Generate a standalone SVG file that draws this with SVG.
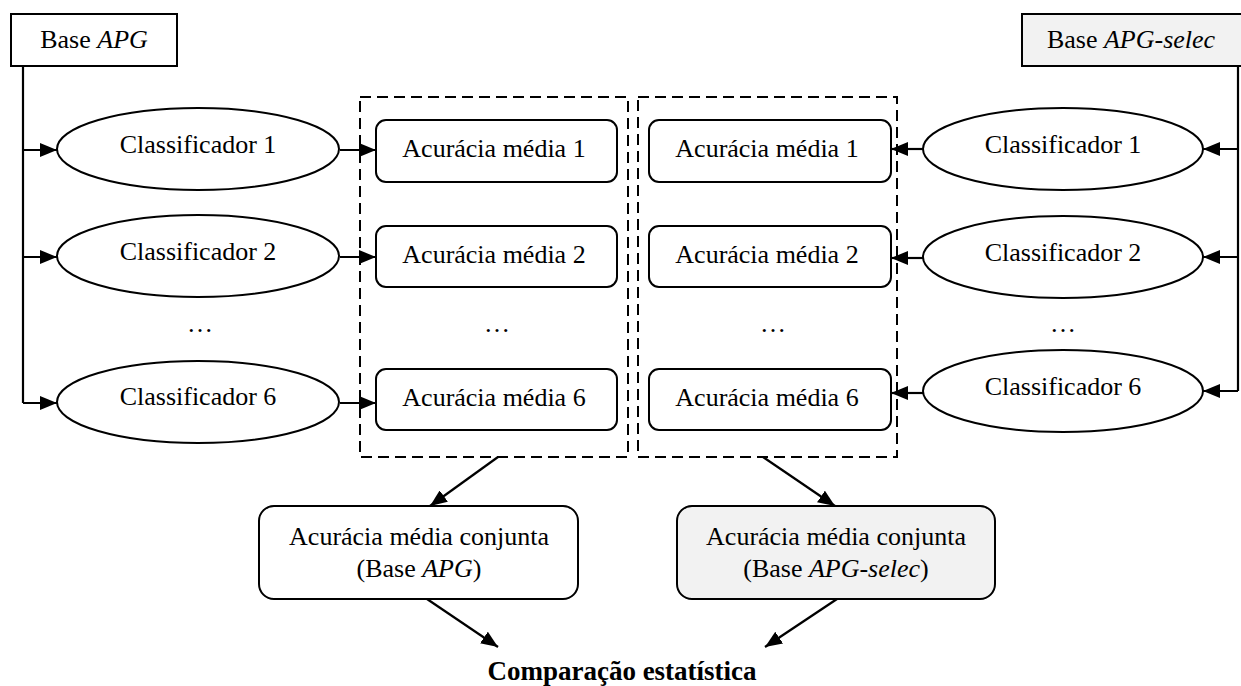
<svg xmlns="http://www.w3.org/2000/svg" width="1241" height="686" viewBox="0 0 1241 686">
  <style>
    text { font-family: "Liberation Serif", "Times New Roman", serif; font-size: 26px; fill: #000; text-anchor: middle; }
    .it { font-style: italic; }
    .title { font-weight: bold; font-size: 27px; }
    .base { fill: #fff; stroke: #000; stroke-width: 2; }
    .base-sel { fill: #f2f2f2; stroke: #000; stroke-width: 2; }
    .clf { fill: #fff; stroke: #000; stroke-width: 2; }
    .acc { fill: #fff; stroke: #000; stroke-width: 2; }
    .group { fill: none; stroke: #000; stroke-width: 2; stroke-dasharray: 11 6; }
    .wire { fill: none; stroke: #000; stroke-width: 2.2; }
    .arrow { fill: none; stroke: #000; stroke-width: 2.2; marker-end: url(#head); }
  </style>
  <defs>
    <marker id="head" markerUnits="userSpaceOnUse" markerWidth="18" markerHeight="14" refX="17" refY="7" orient="auto">
      <path d="M0,0 L17,7 L0,14 z" fill="#000"/>
    </marker>
  </defs>

  <rect width="1241" height="686" fill="#fff"/>

  <!-- dashed groupings of the mean accuracies -->
  <g id="group-apg">
    <rect class="group" x="360" y="97" width="268" height="360"/>
  </g>
  <g id="group-apg-selec">
    <rect class="group" x="638" y="97" width="259" height="360"/>
  </g>

  <!-- connectors -->
  <g id="connectors">
    <!-- Base APG trunk -->
    <path class="wire" d="M23,66 V403"/>
    <path class="arrow" d="M23,150 H57"/>
    <path class="arrow" d="M23,257 H57"/>
    <path class="arrow" d="M23,403 H57"/>
    <!-- classifiers to mean accuracy (APG) -->
    <path class="arrow" d="M340,150 H376"/>
    <path class="arrow" d="M340,257 H376"/>
    <path class="arrow" d="M340,403 H376"/>
    <!-- Base APG-selec trunk -->
    <path class="wire" d="M1238,66 V391"/>
    <path class="arrow" d="M1238,149 H1203"/>
    <path class="arrow" d="M1238,257 H1203"/>
    <path class="arrow" d="M1238,391 H1203"/>
    <!-- classifiers to mean accuracy (APG-selec) -->
    <path class="arrow" d="M923,149 H891"/>
    <path class="arrow" d="M923,258 H891"/>
    <path class="arrow" d="M923,393 H891"/>
    <!-- groups to joint accuracy -->
    <path class="arrow" d="M498,457 L430,506"/>
    <path class="arrow" d="M763,457 L835,506"/>
    <!-- joint accuracy to statistical comparison -->
    <path class="arrow" d="M427,599 L498,647"/>
    <path class="arrow" d="M837,599 L765,647"/>
  </g>

  <!-- data sources -->
  <g id="base-apg">
    <rect class="base" x="11" y="14" width="166" height="52"/>
    <text x="94" y="48">Base <tspan class="it">APG</tspan></text>
  </g>
  <g id="base-apg-selec">
    <rect class="base-sel" x="1022" y="14" width="230" height="52"/>
    <text x="1131" y="48">Base <tspan class="it">APG-selec</tspan></text>
  </g>

  <!-- classifiers, APG side -->
  <g id="clf-apg-1">
    <ellipse class="clf" cx="198" cy="149" rx="141" ry="41"/>
    <text x="198" y="153">Classificador 1</text>
  </g>
  <g id="clf-apg-2">
    <ellipse class="clf" cx="198" cy="256" rx="141" ry="41"/>
    <text x="198" y="260">Classificador 2</text>
  </g>
  <g id="clf-apg-dots">
    <text x="200" y="332">…</text>
  </g>
  <g id="clf-apg-6">
    <ellipse class="clf" cx="198" cy="402" rx="141" ry="41"/>
    <text x="198" y="405">Classificador 6</text>
  </g>

  <!-- mean accuracies, APG side -->
  <g id="acc-apg-1">
    <rect class="acc" x="376" y="120" width="241" height="62" rx="10"/>
    <text x="494" y="157">Acurácia média 1</text>
  </g>
  <g id="acc-apg-2">
    <rect class="acc" x="376" y="226" width="241" height="61" rx="10"/>
    <text x="494" y="263">Acurácia média 2</text>
  </g>
  <g id="acc-apg-dots">
    <text x="497" y="332">…</text>
  </g>
  <g id="acc-apg-6">
    <rect class="acc" x="376" y="369" width="241" height="61" rx="10"/>
    <text x="494" y="406">Acurácia média 6</text>
  </g>

  <!-- mean accuracies, APG-selec side -->
  <g id="acc-sel-1">
    <rect class="acc" x="649" y="120" width="242" height="62" rx="10"/>
    <text x="767" y="157">Acurácia média 1</text>
  </g>
  <g id="acc-sel-2">
    <rect class="acc" x="649" y="226" width="242" height="61" rx="10"/>
    <text x="767" y="263">Acurácia média 2</text>
  </g>
  <g id="acc-sel-dots">
    <text x="773" y="332">…</text>
  </g>
  <g id="acc-sel-6">
    <rect class="acc" x="649" y="369" width="242" height="61" rx="10"/>
    <text x="767" y="406">Acurácia média 6</text>
  </g>

  <!-- classifiers, APG-selec side -->
  <g id="clf-sel-1">
    <ellipse class="clf" cx="1063" cy="149" rx="140" ry="41"/>
    <text x="1063" y="153">Classificador 1</text>
  </g>
  <g id="clf-sel-2">
    <ellipse class="clf" cx="1063" cy="257" rx="140" ry="41"/>
    <text x="1063" y="261">Classificador 2</text>
  </g>
  <g id="clf-sel-dots">
    <text x="1063" y="332">…</text>
  </g>
  <g id="clf-sel-6">
    <ellipse class="clf" cx="1063" cy="391" rx="140" ry="41"/>
    <text x="1063" y="395">Classificador 6</text>
  </g>

  <!-- joint mean accuracies -->
  <g id="joint-apg">
    <rect class="acc" x="259" y="506" width="319" height="93" rx="15"/>
    <text x="419" y="545">Acurácia média conjunta</text>
    <text x="419" y="577">(Base <tspan class="it">APG</tspan>)</text>
  </g>
  <g id="joint-apg-selec">
    <rect class="base-sel" x="677" y="506" width="318" height="93" rx="15"/>
    <text x="836" y="545">Acurácia média conjunta</text>
    <text x="836" y="577">(Base <tspan class="it">APG-selec</tspan>)</text>
  </g>

  <!-- final comparison -->
  <g id="comparison">
    <text class="title" x="622" y="680">Comparação estatística</text>
  </g>
</svg>
